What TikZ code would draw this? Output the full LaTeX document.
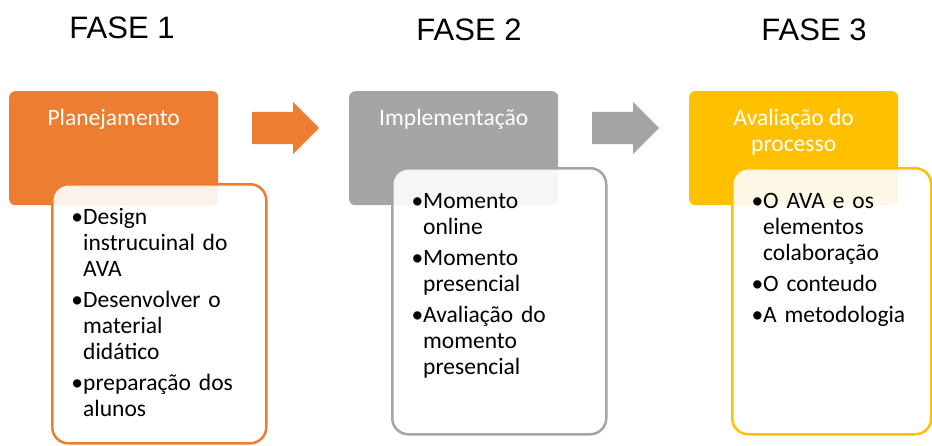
\documentclass[tikz,border=0pt]{standalone}
\usepackage{fontspec}
\setmainfont{Carlito}
\newfontfamily\arialfont{Liberation Sans}
\usetikzlibrary{shapes.arrows,positioning}
\definecolor{faseA}{HTML}{ED7D31}
\definecolor{faseB}{HTML}{A5A5A5}
\definecolor{faseC}{HTML}{FFC000}
\newcommand{\bitem}[1]{\noindent\llap{\textbullet}\rule{0pt}{18pt}#1\par}
\newcommand{\hstrut}{\rule{0pt}{18pt}}
\newcommand{\listsetup}{\hyphenpenalty=10000\relax\rightskip=0pt plus 1fil\relax\setlength{\parskip}{5pt}}

\begin{document}
\begin{tikzpicture}[x=1pt,y=-1pt]
\tikzstyle{fase} = [
	font=\arialfont\fontsize{31}{31}\selectfont,
	anchor=base,
	inner sep=0pt
];
\tikzstyle{head} = [
	rounded corners=6pt, %corner of the coloured box
	minimum width=209pt,
	minimum height=114pt,
	anchor=north west,
	inner sep=0pt
];
\tikzstyle{headtxt} = [
	font=\fontsize{23.5}{26}\selectfont,
	text=white,
	align=center,
	anchor=north,
	inner sep=0pt
];
\tikzstyle{body} = [
	rounded corners=16pt,
	line width=2.5pt,
	fill=white,
	fill opacity=0.9,
	minimum width=214pt,
	anchor=north west,
	inner sep=0pt
];
\tikzstyle{items} = [
	font=\fontsize{23.5}{26}\selectfont,
	text width=153pt,
	anchor=north west,
	inner sep=0pt
];
\tikzstyle{seta} = [
	single arrow,
	single arrow head extend=10pt,
	minimum height=67pt,
	inner xsep=0pt,
	inner ysep=16pt,
	anchor=tail
];

\useasboundingbox (0,0) rectangle (932,445);

% fases
\node[fase](F1) at (122,38) {FASE 1};
\node[fase](F2) at (469,40) {FASE 2};
\node[fase](F3) at (814,40) {FASE 3};

% setas
\node[seta,fill=faseA](S1) at (252,128) {};
\node[seta,fill=faseB](S2) at (592,128) {};

% caixas de titulo
\node[head,fill=faseA](Plan) at (9,91) {};
\node[head,fill=faseB](Impl) at (349,91) {};
\node[head,fill=faseC](Aval) at (689,91) {};

\node[headtxt](PlanT) at ([yshift=-16.7pt]Plan.north) {\hstrut Planejamento};
\node[headtxt](ImplT) at ([yshift=-16.7pt]Impl.north) {\hstrut Implementação};
\node[headtxt](AvalT) at ([yshift=-16.7pt]Aval.north) {\hstrut Avaliação do\\processo};

% caixas de texto
\node[body,draw=faseA,minimum height=259pt](PlanBox) at (51,183) {};
\node[body,draw=faseB,minimum height=266pt](ImplBox) at (391,167) {};
\node[body,draw=faseC,minimum height=266pt,minimum width=199pt](AvalBox) at (731,167) {};

\node[items](PlanList) at ([shift={(32,23)}]PlanBox.north west) {\listsetup
	\bitem{Design instrucuinal do AVA}
	\bitem{Desenvolver o material didático}
	\bitem{preparação dos alunos}};
\node[items](ImplList) at ([shift={(32,23)}]ImplBox.north west) {\listsetup
	\bitem{Momento online}
	\bitem{Momento presencial}
	\bitem{Avaliação do momento presencial}};
\node[items](AvalList) at ([shift={(32,23)}]AvalBox.north west) {\listsetup
	\bitem{O AVA e os elementos colaboração}
	\bitem{O conteudo}
	\bitem{A metodologia}};

\end{tikzpicture}
\end{document}
